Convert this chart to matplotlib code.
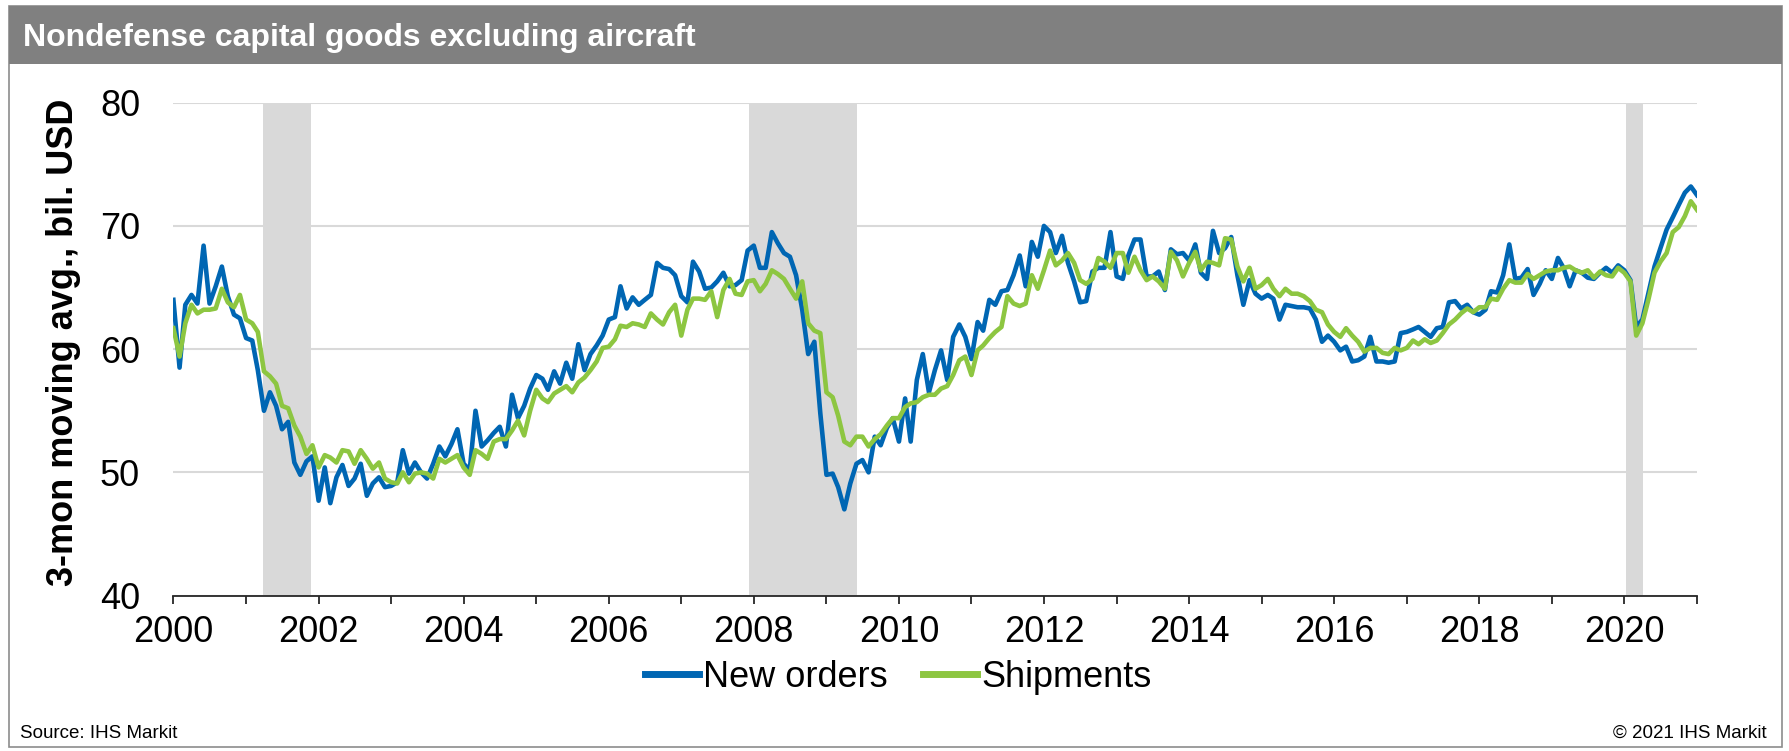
import matplotlib
matplotlib.use("Agg")
import matplotlib.dates as mdates
import matplotlib.pyplot as plt
import pandas as pd
from matplotlib.patches import Rectangle

plt.rcParams["font.family"] = ["Liberation Sans", "DejaVu Sans"]

# monthly, Jan 2000 .. Jan 2021, 3-month moving average, bil. USD
start_month = "2000-01-01"

new_orders = [
    64.0, 58.5, 63.6, 64.4, 63.7, 68.4, 63.7, 65.1, 66.7, 64.3, 62.8, 62.5,
    60.9, 60.7, 58.3, 55.0, 56.5, 55.4, 53.5, 54.1, 50.8, 49.8, 50.9, 51.3,
    47.7, 50.4, 47.5, 49.6, 50.6, 48.9, 49.5, 50.7, 48.1, 49.1, 49.6, 48.8,
    48.9, 49.2, 51.8, 49.9, 50.8, 50.0, 49.5, 50.7, 52.1, 51.3, 52.3, 53.5,
    50.7, 50.2, 55.0, 52.1, 52.6, 53.2, 53.7, 52.1, 56.3, 54.4, 55.4, 56.8,
    57.9, 57.6, 56.7, 58.2, 57.2, 58.9, 57.6, 60.4, 58.3, 59.6, 60.3, 61.1,
    62.4, 62.6, 65.1, 63.3, 64.2, 63.6, 64.0, 64.4, 67.0, 66.6, 66.5, 66.0,
    64.3, 63.8, 67.1, 66.3, 64.9, 65.0, 65.5, 66.2, 65.1, 65.2, 65.6, 68.0,
    68.4, 66.6, 66.6, 69.5, 68.6, 67.8, 67.5, 66.0, 63.2, 59.6, 60.6, 54.8,
    49.8, 49.9, 48.8, 47.0, 49.1, 50.7, 51.0, 50.0, 52.9, 52.2, 53.6, 54.4,
    52.5, 56.0, 52.5, 57.5, 59.6, 56.5, 58.3, 59.9, 57.5, 61.0, 62.0, 61.0,
    59.2, 62.2, 61.5, 64.0, 63.6, 64.7, 64.8, 66.0, 67.6, 65.1, 68.7, 67.5,
    70.0, 69.5, 67.8, 69.2, 67.0, 65.5, 63.8, 63.9, 66.3, 66.6, 66.6, 69.5,
    65.9, 65.7, 67.6, 68.9, 68.9, 65.9, 65.9, 66.3, 64.8, 68.1, 67.7, 67.8,
    67.2, 68.5, 66.2, 65.7, 69.6, 67.8, 68.2, 69.1, 66.0, 63.6, 65.6, 64.5,
    64.1, 64.4, 64.1, 62.4, 63.6, 63.5, 63.4, 63.4, 63.3, 62.4, 60.6, 61.1,
    60.6, 59.9, 60.2, 59.0, 59.1, 59.4, 61.0, 59.0, 59.0, 58.9, 59.0, 61.3,
    61.4, 61.6, 61.8, 61.4, 61.0, 61.7, 61.8, 63.8, 63.9, 63.3, 63.6, 63.0,
    62.8, 63.2, 64.7, 64.6, 66.0, 68.5, 65.7, 65.8, 66.5, 64.4, 65.3, 66.4,
    65.7, 67.4, 66.6, 65.1, 66.4, 66.2, 65.8, 65.7, 66.2, 66.6, 66.2, 66.8,
    66.4, 65.6, 61.8, 62.4, 64.5, 66.7, 68.2, 69.7, 70.7, 71.7, 72.7, 73.2,
    72.5,
]

shipments = [
    61.7, 59.4, 62.1, 63.6, 62.9, 63.2, 63.2, 63.3, 64.9, 63.8, 63.4, 64.4,
    62.4, 62.1, 61.4, 58.2, 57.8, 57.2, 55.4, 55.2, 53.8, 52.9, 51.5, 52.2,
    50.4, 51.4, 51.2, 50.8, 51.8, 51.7, 50.7, 51.8, 51.1, 50.3, 50.8, 49.5,
    49.2, 49.1, 50.0, 49.2, 49.9, 50.0, 49.9, 49.5, 51.1, 50.8, 51.1, 51.4,
    50.4, 49.8, 51.8, 51.5, 51.1, 52.5, 52.7, 52.7, 53.4, 54.2, 53.0, 55.0,
    56.7, 56.0, 55.7, 56.4, 56.7, 57.0, 56.5, 57.3, 57.7, 58.3, 59.0, 60.1,
    60.2, 60.8, 61.9, 61.8, 62.1, 62.0, 61.8, 62.9, 62.4, 62.0, 63.0, 63.6,
    61.1, 63.2, 64.1, 64.1, 64.0, 64.7, 62.6, 64.8, 65.7, 64.5, 64.4, 65.5,
    65.6, 64.7, 65.3, 66.4, 66.1, 65.7, 64.9, 64.1, 65.5, 62.1, 61.5, 61.3,
    56.5, 56.1, 54.6, 52.5, 52.2, 52.9, 52.9, 52.1, 52.7, 53.1, 53.8, 54.4,
    54.4, 55.3, 55.6, 55.7, 56.1, 56.3, 56.3, 56.8, 57.0, 57.9, 59.1, 59.4,
    57.9, 59.9, 60.3, 60.9, 61.4, 61.8, 64.3, 63.7, 63.5, 63.7, 66.0, 64.9,
    66.4, 68.0, 66.8, 67.2, 67.8, 67.0, 65.6, 65.3, 65.7, 67.4, 67.1, 66.6,
    67.8, 67.8, 66.2, 67.5, 66.4, 65.6, 65.9, 65.5, 64.9, 67.9, 67.2, 65.9,
    67.0, 67.9, 66.4, 67.1, 67.0, 66.8, 69.0, 68.9, 66.7, 65.5, 66.6, 64.9,
    65.2, 65.7, 64.9, 64.3, 64.9, 64.5, 64.5, 64.3, 63.9, 63.2, 63.0, 62.0,
    61.4, 61.0, 61.7, 61.1, 60.6, 59.8, 60.1, 60.1, 59.7, 59.6, 60.1, 59.9,
    60.1, 60.7, 60.4, 60.8, 60.5, 60.7, 61.3, 62.0, 62.4, 62.9, 63.3, 63.0,
    63.4, 63.4, 64.1, 64.0, 64.9, 65.6, 65.4, 65.4, 66.1, 65.7, 66.0, 66.3,
    66.4, 66.4, 66.6, 66.7, 66.4, 66.2, 66.4, 65.8, 66.3, 66.0, 65.9, 66.6,
    66.2, 65.5, 61.1, 62.1, 64.0, 66.2, 67.1, 67.8, 69.5, 69.9, 70.8, 72.0,
    71.3,
]

recessions = [
    ("2001-03-27", "2001-11-23"),
    ("2007-12-10", "2009-06-06"),
    ("2020-01-12", "2020-04-05"),
]

y_ticks = [40, 50, 60, 70, 80]

BLUE = "#0066B3"
GREEN = "#8DC641"
SHADE = "#D9D9D9"
W, H = 1789, 751


def main():
    dates = pd.date_range(start_month, periods=len(new_orders), freq="MS")

    fig = plt.figure(figsize=(W / 100, H / 100), dpi=100)

    # frame and header bar
    fig.patches.append(Rectangle((9 / W, 4 / H), 1773 / W, 741 / H, transform=fig.transFigure,
                                 fill=False, edgecolor="#8C8C8C", linewidth=1.2))
    fig.patches.append(Rectangle((9 / W, (H - 64) / H), 1773 / W, 58 / H, transform=fig.transFigure,
                                 facecolor="#808080", edgecolor="none"))
    fig.text(23 / W, (H - 38) / H, "Nondefense capital goods excluding aircraft",
             color="white", fontsize=23, fontweight="bold", ha="left", va="center")

    ax = fig.add_axes([173.4 / W, 155.4 / H, (1697 - 173.4) / W, (595.6 - 102.7) / H])

    for start, end in recessions:
        ax.axvspan(pd.Timestamp(start), pd.Timestamp(end), color=SHADE, lw=0, zorder=1)

    ax.plot(dates, new_orders, color=BLUE, lw=3.3, label="New orders", zorder=3)
    ax.plot(dates, shipments, color=GREEN, lw=3.3, label="Shipments", zorder=4)

    ax.set_ylim(40, 80)
    ax.set_yticks(y_ticks)
    ax.set_xlim(pd.Timestamp("2000-01-01"), pd.Timestamp("2021-01-01"))
    ax.xaxis.set_major_locator(mdates.YearLocator(2))
    ax.xaxis.set_major_formatter(mdates.DateFormatter("%Y"))
    ax.xaxis.set_minor_locator(mdates.YearLocator(1))

    ax.grid(axis="y", color=SHADE, lw=1.5, zorder=0)
    ax.set_axisbelow(True)
    for side in ["left", "right", "top"]:
        ax.spines[side].set_visible(False)
    ax.spines["bottom"].set_color("#262626")
    ax.spines["bottom"].set_linewidth(1.3)
    ax.spines["bottom"].set_zorder(5)

    ax.tick_params(axis="y", length=0, pad=24, labelsize=26)
    ax.tick_params(axis="x", which="both", direction="out", length=6, width=1.3,
                   color="#262626", pad=8, labelsize=26)

    fig.text(64 / W, 0.544, "3-mon moving avg., bil. USD", rotation=90,
             fontsize=26, fontweight="bold", ha="center", va="center")

    fig.legend(loc="center", bbox_to_anchor=(0.502, 0.0985), ncol=2, frameon=False,
               fontsize=26, handlelength=1.5, handletextpad=0.1, columnspacing=1.0)
    for line in fig.legends[0].get_lines():
        line.set_linewidth(5)

    fig.text(20 / W, 18 / H, "Source: IHS Markit", fontsize=13.5, ha="left", va="center")
    fig.text(1767 / W, 18 / H, "\u00a9 2021 IHS Markit", fontsize=13.5, ha="right", va="center")

    fig.savefig("out.png", dpi=100)


if __name__ == "__main__":
    main()
